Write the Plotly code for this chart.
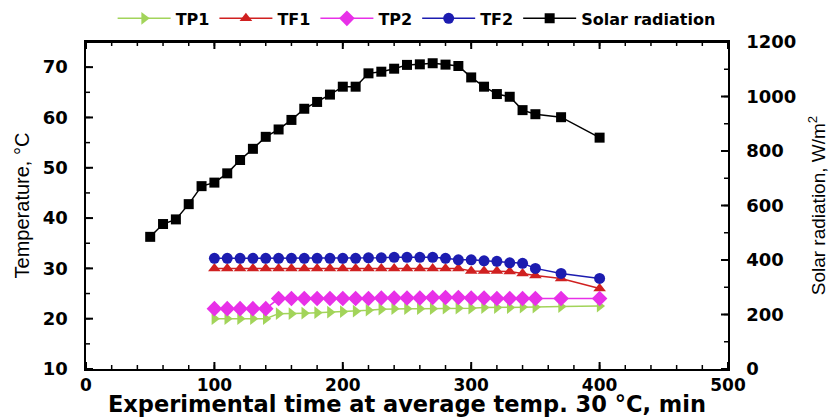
import plotly.graph_objects as go

time_solar = [50, 60, 70, 80, 90, 100, 110, 120, 130, 140, 150, 160, 170, 180, 190, 200,
              210, 220, 230, 240, 250, 260, 270, 280, 290, 300, 310, 320, 330, 340, 350, 370, 400]
solar = [485, 532, 549, 605, 671, 684, 718, 767, 808, 852, 879, 914, 955, 980, 1007, 1036,
         1036, 1085, 1091, 1102, 1116, 1118, 1122, 1117, 1112, 1070, 1036, 1009, 999, 950, 935, 924, 849]

time_temp = [100, 110, 120, 130, 140, 150, 160, 170, 180, 190, 200, 210, 220, 230, 240, 250,
             260, 270, 280, 290, 300, 310, 320, 330, 340, 350, 370, 400]
tp1 = [20.0, 20.0, 20.0, 20.0, 20.0, 21.0, 21.0, 21.1, 21.2, 21.3, 21.4, 21.5, 21.7, 21.9, 22.0, 22.0,
       22.0, 22.0, 22.1, 22.1, 22.1, 22.2, 22.2, 22.2, 22.3, 22.3, 22.4, 22.5]
tf1 = [30.0, 30.0, 30.0, 30.0, 30.0, 30.0, 30.0, 30.0, 30.0, 30.0, 30.0, 30.0, 30.0, 30.0, 30.0, 30.0,
       30.0, 30.0, 30.0, 30.0, 29.5, 29.5, 29.5, 29.4, 29.0, 28.6, 28.0, 26.0]
tp2 = [22.0, 22.0, 22.0, 22.0, 22.0, 24.0, 24.0, 24.0, 24.0, 24.0, 24.0, 24.0, 24.0, 24.1, 24.1, 24.1,
       24.1, 24.2, 24.2, 24.2, 24.1, 24.1, 24.0, 24.0, 24.0, 24.0, 24.0, 24.0]
tf2 = [32.0, 32.0, 32.0, 32.0, 32.0, 32.0, 32.0, 32.0, 32.0, 32.0, 32.0, 32.0, 32.1, 32.1, 32.2, 32.2,
       32.2, 32.2, 32.0, 31.7, 31.7, 31.5, 31.4, 31.1, 31.0, 30.0, 29.0, 28.0]

X_RANGE = [0, 500]
Y_RANGE = [10, 75]
Y2_RANGE = [0, 1200]

fig = go.Figure()
fig.add_trace(go.Scatter(x=time_temp, y=tp1, name="TP1", mode="lines+markers",
                         line=dict(color="#A2D45A", width=1.5),
                         marker=dict(symbol="triangle-right", size=11, color="#A2D45A")))
fig.add_trace(go.Scatter(x=time_temp, y=tf1, name="TF1", mode="lines+markers",
                         line=dict(color="#D02020", width=1.5),
                         marker=dict(symbol="triangle-up", size=11, color="#D02020")))
fig.add_trace(go.Scatter(x=time_temp, y=tp2, name="TP2", mode="lines+markers",
                         line=dict(color="#E830E8", width=1.5),
                         marker=dict(symbol="diamond", size=12, color="#E830E8")))
fig.add_trace(go.Scatter(x=time_temp, y=tf2, name="TF2", mode="lines+markers",
                         line=dict(color="#1C1CB0", width=1.5),
                         marker=dict(symbol="circle", size=11, color="#1C1CB0")))
fig.add_trace(go.Scatter(x=time_solar, y=solar, name="Solar radiation", mode="lines+markers",
                         yaxis="y2",
                         line=dict(color="black", width=1.5),
                         marker=dict(symbol="square", size=10, color="black")))

tickfont = dict(family="DejaVu Sans", size=18, color="black", weight="bold")
xtickfont = dict(family="DejaVu Sans", size=17, color="black", weight="bold")
narrow = "Liberation Sans Narrow, Arial Narrow, Liberation Sans"
NB = "\u00a0"


# inward tick marks, placed through the axes' own scales (pixel-length shapes)
def xticks(step, length, width):
    out = []
    v = X_RANGE[0]
    while v <= X_RANGE[1]:
        for anchor, sgn in ((0, 1), (1, -1)):
            out.append(dict(type="line", xref="x", yref="paper", x0=v, x1=v,
                            ysizemode="pixel", yanchor=anchor, y0=0, y1=sgn * length,
                            line=dict(color="black", width=width)))
        v += step
    return out


def yticks(rng, yref, anchor, sgn, step, length, width):
    out = []
    v = rng[0]
    while v < rng[1]:
        out.append(dict(type="line", xref="paper", yref=yref, y0=v, y1=v,
                        xsizemode="pixel", xanchor=anchor, x0=0, x1=sgn * length,
                        line=dict(color="black", width=width)))
        v += step
    return out


shapes = []
shapes += xticks(20, 4, 1.5)
shapes += xticks(100, 7, 2)
shapes += yticks(Y_RANGE, "y", 0, 1, 5, 4, 1.5)
shapes += yticks(Y_RANGE, "y", 0, 1, 10, 7, 2)
shapes += yticks(Y2_RANGE, "y2", 1, -1, 100, 4, 1.5)
shapes += yticks(Y2_RANGE, "y2", 1, -1, 200, 7, 2)
shapes.append(dict(type="line", xref="paper", yref="paper", x0=0, x1=1, y0=1, y1=1,
                   line=dict(color="black", width=2)))

fig.update_layout(
    width=831, height=417,
    margin=dict(l=86, r=103, t=42, b=48, autoexpand=False),
    paper_bgcolor="white", plot_bgcolor="white",
    showlegend=True,
    legend=dict(orientation="h", x=0.515, xanchor="center", y=1.02, yanchor="bottom",
                font=dict(family="DejaVu Sans", size=16, color="black", weight="bold"),
                itemwidth=53, tracegroupgap=0, bgcolor="rgba(0,0,0,0)"),
    xaxis=dict(range=X_RANGE, tickmode="linear", dtick=100, tick0=0, showgrid=False, zeroline=False,
               showline=True, linecolor="black", linewidth=2, mirror=True, ticks="",
               tickfont=xtickfont, automargin=False,
               title=dict(text="Experimental time at average temp. 30 °C, min", standoff=12,
                          font=dict(family="DejaVu Sans", size=22.5, color="black", weight="bold"))),
    yaxis=dict(range=Y_RANGE, tickmode="linear", dtick=10, tick0=10, showgrid=False, zeroline=False,
               showline=True, linecolor="black", linewidth=2, ticks="",
               tickfont=tickfont, ticksuffix=NB * 2, automargin=False,
               title=dict(text="Temperature, °C", standoff=8,
                          font=dict(family=narrow, size=20, color="black"))),
    yaxis2=dict(range=Y2_RANGE, tickmode="linear", dtick=200, tick0=0, overlaying="y", side="right",
                showgrid=False, zeroline=False,
                showline=True, linecolor="black", linewidth=2, ticks="",
                tickfont=tickfont, tickprefix=NB * 2, automargin=False,
                title=dict(text="Solar radiation, W/m<sup>2</sup>", standoff=16,
                           font=dict(family=narrow, size=19, color="black"))),
    shapes=shapes,
)

fig.write_html("out.html")
